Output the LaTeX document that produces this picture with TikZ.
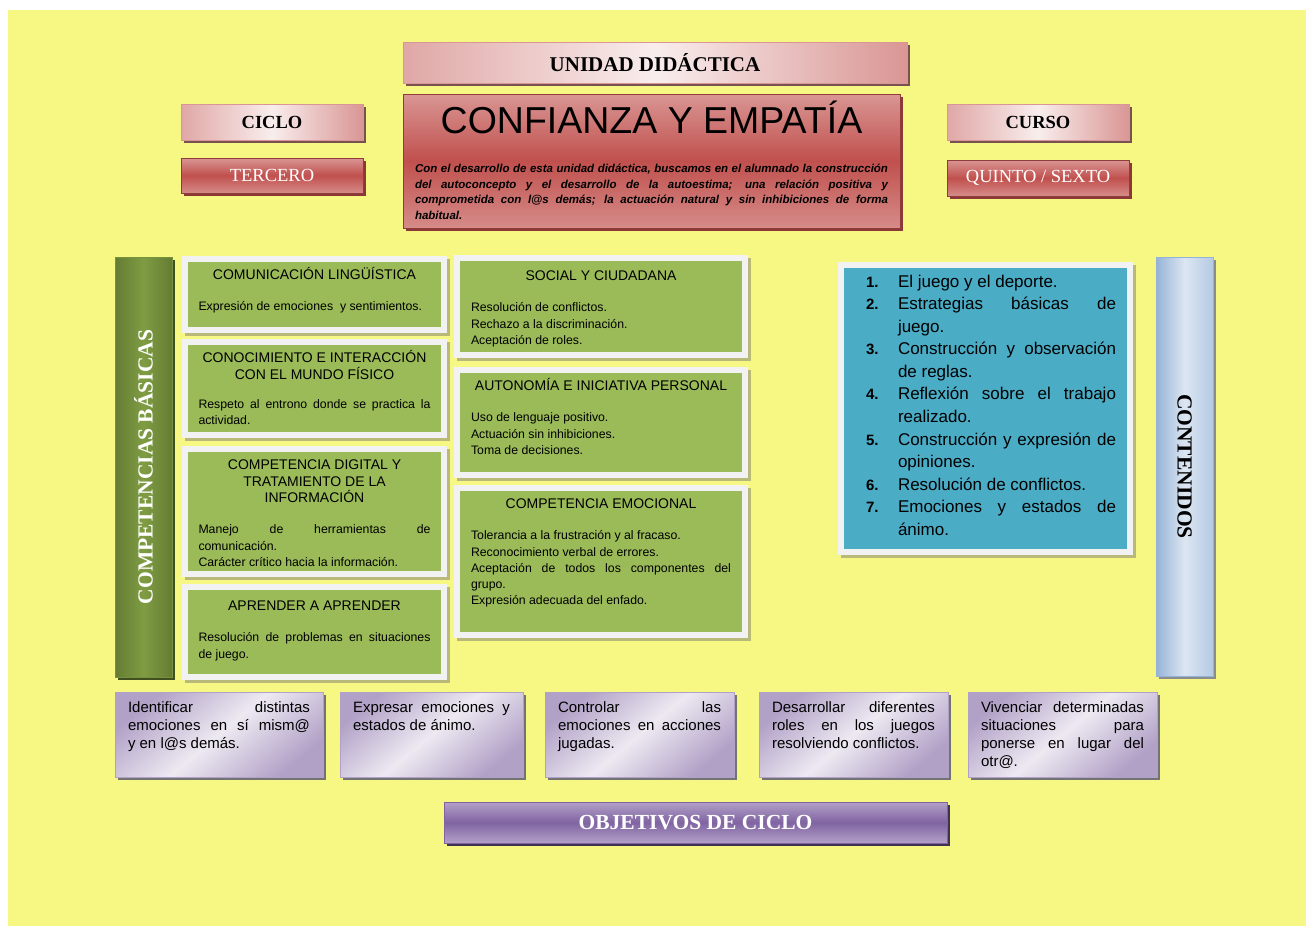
\documentclass[tikz,border=0pt]{standalone}
\usepackage{fontspec}
\setmainfont{Liberation Serif}
\setsansfont{Liberation Sans}
\usetikzlibrary{positioning, shadows}

\definecolor{fondo}{HTML}{F6F883}
\definecolor{rosa}{HTML}{F2DCDB}
\definecolor{rosaosc}{HTML}{D99694}
\definecolor{rojo}{HTML}{C0504D}
\definecolor{rojoosc}{HTML}{8C3836}
\definecolor{verde}{HTML}{9BBB59}
\definecolor{verdeosc}{HTML}{76923C}
\definecolor{marco}{HTML}{F2F2F2}
\definecolor{grissombra}{HTML}{B9BA7A}
\definecolor{azul}{HTML}{4BACC6}
\definecolor{celeste}{HTML}{DCE6F2}
\definecolor{celesteosc}{HTML}{95B3D7}
\definecolor{lila}{HTML}{E5E0EC}
\definecolor{lilaosc}{HTML}{B2A1C7}
\definecolor{morado}{HTML}{8064A2}

\newcommand{\tfont}[2]{\fontsize{#1}{#2}\selectfont}
\newcommand{\lineatop}{\rule{0pt}{14pt}}
\newcommand{\compcaja}[3][14.7pt]{{\centering\tfont{14}{16.5}\lineatop #2\par}\vspace{#1}\tfont{12.3}{16.3}#3\par}
\newcommand{\contitem}[2]{\hangindent=32pt\hangafter=1\noindent\makebox[32pt][l]{\bfseries\tfont{15}{22.55}#1}#2\par}

\begin{document}
\begin{tikzpicture}[x=1pt, y=-1pt,
    sombra/.style={general shadow={fill=#1, shadow xshift=3pt, shadow yshift=-3pt}},
    caja/.style={anchor=north west, inner sep=0pt, outer sep=0pt},
    rosabox/.style={caja, draw=rosaosc, left color=rosaosc!75!rosa, right color=rosaosc, middle color=rosa!50!white, sombra=rosaosc!55!black, font=\bfseries\tfont{18.5}{20}},
    rojobox/.style={caja, draw=rojo!75!black, top color=rosaosc, bottom color=rosaosc!85!rojo, middle color=rojo, sombra=rojoosc},
    barra/.style={caja, minimum width=57pt, minimum height=420pt},
    marcobox/.style={caja, fill=#1, draw=marco, line width=6pt, general shadow={fill=grissombra, draw=grissombra, line width=6pt, shadow xshift=3pt, shadow yshift=-3pt}},
    lilabox/.style={caja, minimum height=85pt, draw=lilaosc, top color=lilaosc, bottom color=lilaosc, middle color=lila!70!white, shading angle=40, sombra=black!55},
    ctxt/.style={anchor=north, inner sep=0pt, align=justify, font=\sffamily, execute at begin node=\setlength{\parindent}{0pt}},
    ltxt/.style={ctxt, font=\sffamily\tfont{15}{18}}]
  \useasboundingbox (0,0) rectangle (1306,926);
  \fill[white] (0,0) rectangle (1306,926);
  \fill[fondo] (8,10) rectangle (1306,926);

  % cabecera
  \node[rosabox, minimum width=504pt, minimum height=41pt, font=\bfseries\tfont{21}{24}] (unidad) at (403,42) {UNIDAD DIDÁCTICA};
  \node[rojobox, minimum width=497pt, minimum height=134pt] (conf) at (403,94) {};
  \node[anchor=base, font=\sffamily\tfont{37.5}{40}] (conftit) at ([yshift=-39pt]conf.north) {CONFIANZA Y EMPATÍA};
  \node[ctxt, text width=473pt, font=\sffamily\bfseries\itshape\tfont{11.5}{15.8}, below=66pt of conf.north] (confdesc) {\rule{0pt}{12pt}Con el desarrollo de esta unidad didáctica, buscamos en el alumnado la construcción\linebreak del autoconcepto y el desarrollo de la autoestima; una relación positiva y\linebreak comprometida con l@s demás; la actuación natural y sin inhibiciones de forma\linebreak habitual.};
  \node[rosabox, minimum width=182pt, minimum height=36pt] (ciclo) at (181,104) {CICLO};
  \node[rojobox, minimum width=182pt, minimum height=35pt, text=white, font=\tfont{18.5}{20}] (tercero) at (181,158) {TERCERO};
  \node[rosabox, minimum width=182pt, minimum height=36pt] (curso) at (947,104) {CURSO};
  \node[rojobox, minimum width=182pt, minimum height=36pt, text=white, font=\tfont{18.5}{20}] (quinto) at (947,160) {QUINTO / SEXTO};

  % competencias basicas
  \node[barra, draw=verdeosc, left color=verdeosc!85!black, right color=verdeosc!85!black, middle color=verdeosc!75!verde, sombra=verdeosc!55!black] (compbas) at (115,257) {};
  \node[rotate=90, text=white, font=\bfseries\tfont{21.5}{24}] (compbastxt) at (compbas.center) {COMPETENCIAS BÁSICAS};

  \node[marcobox=verde, minimum width=259pt, minimum height=71pt] (ling) at (185,259) {};
  \node[ctxt, text width=232pt, below=6.5pt of ling.north] (lingtxt) {\compcaja{COMUNICACIÓN LINGÜÍSTICA}{Expresión de emociones\ \ y sentimientos.}};
  \node[marcobox=verde, minimum width=259pt, minimum height=93pt] (fisico) at (185,342) {};
  \node[ctxt, text width=232pt, below=6.5pt of fisico.north] (fisicotxt) {\compcaja[12.5pt]{CONOCIMIENTO E INTERACCIÓN\\CON EL MUNDO FÍSICO}{Respeto al entrono donde se practica la\linebreak actividad.}};
  \node[marcobox=verde, minimum width=259pt, minimum height=125pt] (digital) at (185,449) {};
  \node[ctxt, text width=232pt, below=6.5pt of digital.north] (digitaltxt) {\compcaja{COMPETENCIA DIGITAL Y\\TRATAMIENTO DE LA\\INFORMACIÓN}{Manejo de herramientas de\linebreak comunicación.\par Carácter crítico hacia la información.}};
  \node[marcobox=verde, minimum width=259pt, minimum height=90pt] (aprender) at (185,587) {};
  \node[ctxt, text width=232pt, below=9.5pt of aprender.north] (aprendertxt) {\compcaja{APRENDER A APRENDER}{Resolución de problemas en situaciones\linebreak de juego.}};

  \node[marcobox=verde, minimum width=288pt, minimum height=97pt] (social) at (457,258) {};
  \node[ctxt, text width=260pt, below=8.5pt of social.north] (socialtxt) {\compcaja{SOCIAL Y CIUDADANA}{Resolución de conflictos.\par Rechazo a la discriminación.\par Aceptación de roles.}};
  \node[marcobox=verde, minimum width=288pt, minimum height=105pt] (autonomia) at (457,370) {};
  \node[ctxt, text width=260pt, below=6.5pt of autonomia.north] (autonomiatxt) {\compcaja{AUTONOMÍA E INICIATIVA PERSONAL}{Uso de lenguaje positivo.\par Actuación sin inhibiciones.\par Toma de decisiones.}};
  \node[marcobox=verde, minimum width=288pt, minimum height=147pt] (emocional) at (457,488) {};
  \node[ctxt, text width=260pt, below=6.5pt of emocional.north] (emocionaltxt) {\compcaja{COMPETENCIA EMOCIONAL}{Tolerancia a la frustración y al fracaso.\par Reconocimiento verbal de errores.\par Aceptación de todos los componentes del\linebreak grupo.\par Expresión adecuada del enfado.}};

  % contenidos
  \node[marcobox=azul, minimum width=289pt, minimum height=287pt] (azulbox) at (841,265) {};
  \node[ctxt, text width=250pt, font=\sffamily\tfont{17}{22.55}, below=8pt of azulbox.north, xshift=5.5pt] (contlist) {%
    \contitem{1.}{\lineatop El juego y el deporte.}%
    \contitem{2.}{Estrategias básicas de\linebreak juego.}%
    \contitem{3.}{Construcción y observación\linebreak de reglas.}%
    \contitem{4.}{Reflexión sobre el trabajo\linebreak realizado.}%
    \contitem{5.}{Construcción y expresión de\linebreak opiniones.}%
    \contitem{6.}{Resolución de conflictos.}%
    \contitem{7.}{Emociones y estados de\linebreak ánimo.}};
  \node[barra, minimum height=419pt, draw=celesteosc, left color=celesteosc, right color=celesteosc!55!celeste, middle color=celeste, sombra=black!45] (contenidos) at (1156,257) {};
  \node[rotate=-90, font=\bfseries\tfont{21.5}{24}] (contenidostxt) at (contenidos.center) {CONTENIDOS};

  % objetivos
  \foreach \i/\x/\w/\t in {1/115/208/{Identificar distintas\linebreak emociones en sí mism@\linebreak y en l@s demás.},
      2/340/183/{Expresar emociones y\linebreak estados de ánimo.},
      3/545/189/{Controlar las\linebreak emociones en acciones\linebreak jugadas.},
      4/759/189/{Desarrollar diferentes\linebreak roles en los juegos\linebreak resolviendo conflictos.},
      5/968/189/{Vivenciar determinadas\linebreak situaciones para\linebreak ponerse en lugar del\linebreak otr@.}} {
    \node[lilabox, minimum width=\w pt] (obj\i) at (\x,692) {};
    \pgfmathsetmacro{\tw}{\w-26}
    \node[ltxt, text width=\tw pt, below=6pt of obj\i.north] (obj\i txt) {\lineatop\t};
  }
  \node[caja, minimum width=503pt, minimum height=41pt, draw=morado, top color=lilaosc, bottom color=lilaosc, middle color=morado, sombra=morado!50!black, text=white, font=\bfseries\tfont{21.5}{24}] (objciclo) at (444,802) {OBJETIVOS DE CICLO};
\end{tikzpicture}
\end{document}
